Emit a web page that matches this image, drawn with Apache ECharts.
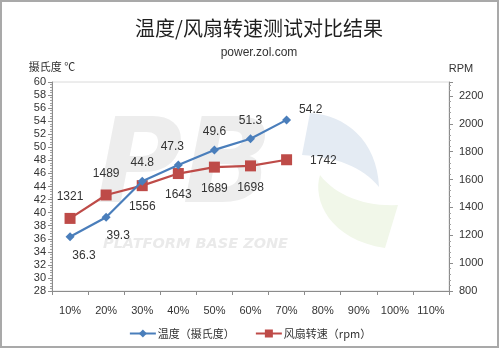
<!DOCTYPE html>
<html>
<head>
<meta charset="utf-8">
<script src="https://cdn.jsdelivr.net/npm/echarts@6/dist/echarts.min.js"></script>
<style>
  html, body { margin: 0; padding: 0; background: #fff; }
  #chart { width: 500px; height: 349px; }
</style>
</head>
<body>
<div id="chart"></div>
<script>
// Fan duty categories
const categories = ['10%', '20%', '30%', '40%', '50%', '60%', '70%', '80%', '90%', '100%', '110%'];
// Measured temperature (°C) and fan speed (RPM)
const temperature = [36.3, 39.3, 44.8, 47.3, 49.6, 51.3, 54.2];
const fanSpeed = [1321, 1489, 1556, 1643, 1689, 1698, 1742];
// Where each value label sits relative to its point
const tempLabelPos = ['bottom', 'bottom', 'top', 'top', 'top', 'top', 'right'];
const fanLabelPos = ['top', 'top', 'bottom', 'bottom', 'bottom', 'bottom', 'right'];

const FONT = '"Liberation Sans", "Noto Sans CJK SC", sans-serif';
const CJK = '"Noto Sans CJK SC", sans-serif';
const BLUE = '#4a7ebb';
const RED = '#be4b48';

function withLabels(values, positions, offsets) {
  return values.map((v, i) => ({
    value: v,
    label: { position: positions[i], offset: offsets[i] || [0, 0] }
  }));
}

const tempOffsets = [[14, 2], [12, 2], [0, -2], [-6, -2], [0, -2], [0, -2], [2, -10]];
const fanOffsets = [[0, -4], [0, -4], [0, 4], [0, 4], [0, 4], [0, 4], [12, 1]];

// Sample a cubic bezier into points for the decorative logo shapes
function cubic(p0, p1, p2, p3, n) {
  const pts = [];
  for (let i = 0; i <= n; i++) {
    const t = i / n, u = 1 - t;
    pts.push([
      u * u * u * p0[0] + 3 * u * u * t * p1[0] + 3 * u * t * t * p2[0] + t * t * t * p3[0],
      u * u * u * p0[1] + 3 * u * u * t * p1[1] + 3 * u * t * t * p2[1] + t * t * t * p3[1]
    ]);
  }
  return pts;
}
const blueArc = cubic([310, 113], [345, 115], [377, 140], [379, 187], 16)
  .concat(cubic([379, 187], [362, 166], [335, 157], [302, 155], 16));
const greenArc = cubic([320, 175], [312, 200], [330, 240], [385, 248], 16)
  .concat(cubic([398, 205], [365, 207], [335, 195], [320, 175], 16));

const chart = echarts.init(document.getElementById('chart'), null, { renderer: 'canvas' });

chart.setOption({
  backgroundColor: '#ffffff',
  animation: false,
  textStyle: { fontFamily: FONT },
  title: [
    {
      text: '温度/风扇转速测试对比结果',
      left: 254, top: 13, textAlign: 'center',
      textStyle: { fontFamily: CJK, fontSize: 20, fontWeight: 'normal', color: '#1f1f1f' }
    },
    {
      text: 'power.zol.com',
      left: 254, top: 42, textAlign: 'center',
      textStyle: { fontFamily: FONT, fontSize: 12, fontWeight: 'normal', color: '#333' }
    }
  ],
  graphic: [
    // Outer frame
    { type: 'rect', shape: { x: 1, y: 1, width: 497, height: 346 },
      style: { fill: 'none', stroke: '#a9a9a9', lineWidth: 2 }, z: 100 },
    // Faint logo watermark behind the plot
    { type: 'text', left: 96, top: 112, z: -1, silent: true,
      style: { text: 'PB', fontFamily: '"DejaVu Sans", sans-serif', fontWeight: 'bold',
               fontStyle: 'italic', fontSize: 118, fill: '#ededed' } },
    { type: 'text', left: 103, top: 237, z: -1, silent: true,
      style: { text: 'PLATFORM BASE ZONE', fontFamily: '"DejaVu Sans", sans-serif', fontWeight: 'bold',
               fontStyle: 'italic', fontSize: 14.5, fill: '#eaeaea' } },
    { type: 'polygon', z: -1, silent: true,
      shape: { points: blueArc }, style: { fill: '#e4ebf3' } },
    { type: 'polygon', z: -1, silent: true,
      shape: { points: greenArc }, style: { fill: '#f1f7e9' } }
  ],
  legend: {
    left: 'center', top: 323, itemGap: 20, itemWidth: 26, itemHeight: 10,
    textStyle: { fontFamily: CJK, fontSize: 11, color: '#333', padding: [0, 0, 0, -3] },
    data: ['温度（摄氏度）', '风扇转速（rpm）']
  },
  grid: {
    left: 52, right: 51, top: 82, bottom: 58,
    show: true, borderColor: '#dadada', borderWidth: 1, backgroundColor: 'transparent'
  },
  xAxis: {
    type: 'category',
    data: categories,
    boundaryGap: true,
    axisLine: { lineStyle: { color: '#8c8c8c' } },
    axisTick: { show: true, alignWithLabel: false, length: 4, lineStyle: { color: '#8c8c8c' } },
    axisLabel: { fontFamily: FONT, fontSize: 11, color: '#333', margin: 14, interval: 0 },
    splitLine: { show: false }
  },
  yAxis: [
    {
      type: 'value', min: 28, max: 60, interval: 2,
      name: '摄氏度 ℃', nameLocation: 'end', nameGap: 10,
      nameTextStyle: { fontFamily: CJK, fontSize: 11, color: '#333', align: 'center' },
      axisLine: { show: true, lineStyle: { color: '#8c8c8c' } },
      axisTick: { show: true, length: 4, lineStyle: { color: '#8c8c8c' } },
      minorTick: { show: true, splitNumber: 5, length: 2, lineStyle: { color: '#a0a0a0' } },
      axisLabel: { fontFamily: FONT, fontSize: 11, color: '#333', margin: 6 },
      splitLine: { show: false }
    },
    {
      type: 'value', min: 800, max: 2300, interval: 200,
      name: 'RPM', nameLocation: 'end', nameGap: 8,
      nameTextStyle: { fontFamily: FONT, fontSize: 11, color: '#333', align: 'center', padding: [0, 0, 0, 24] },
      axisLine: { show: true, lineStyle: { color: '#8c8c8c' } },
      axisTick: { show: true, length: 4, lineStyle: { color: '#8c8c8c' } },
      minorTick: { show: true, splitNumber: 5, length: 2, lineStyle: { color: '#a0a0a0' } },
      axisLabel: { fontFamily: FONT, fontSize: 11, color: '#333', margin: 10, showMaxLabel: false,
                   formatter: v => String(v) },
      splitLine: { show: false }
    }
  ],
  series: [
    {
      name: '温度（摄氏度）',
      type: 'line',
      yAxisIndex: 0,
      data: withLabels(temperature, tempLabelPos, tempOffsets),
      color: BLUE,
      lineStyle: { width: 2.2, color: BLUE },
      symbol: 'diamond', symbolSize: 9,
      itemStyle: { color: BLUE },
      label: { show: true, fontFamily: FONT, fontSize: 12, color: '#333', distance: 6 },
      z: 3
    },
    {
      name: '风扇转速（rpm）',
      type: 'line',
      yAxisIndex: 1,
      data: withLabels(fanSpeed, fanLabelPos, fanOffsets),
      color: RED,
      lineStyle: { width: 2.2, color: RED },
      symbol: 'rect', symbolSize: 11,
      itemStyle: { color: RED },
      label: { show: true, fontFamily: FONT, fontSize: 12, color: '#333', distance: 6 },
      z: 2
    }
  ]
});
</script>
</body>
</html>
